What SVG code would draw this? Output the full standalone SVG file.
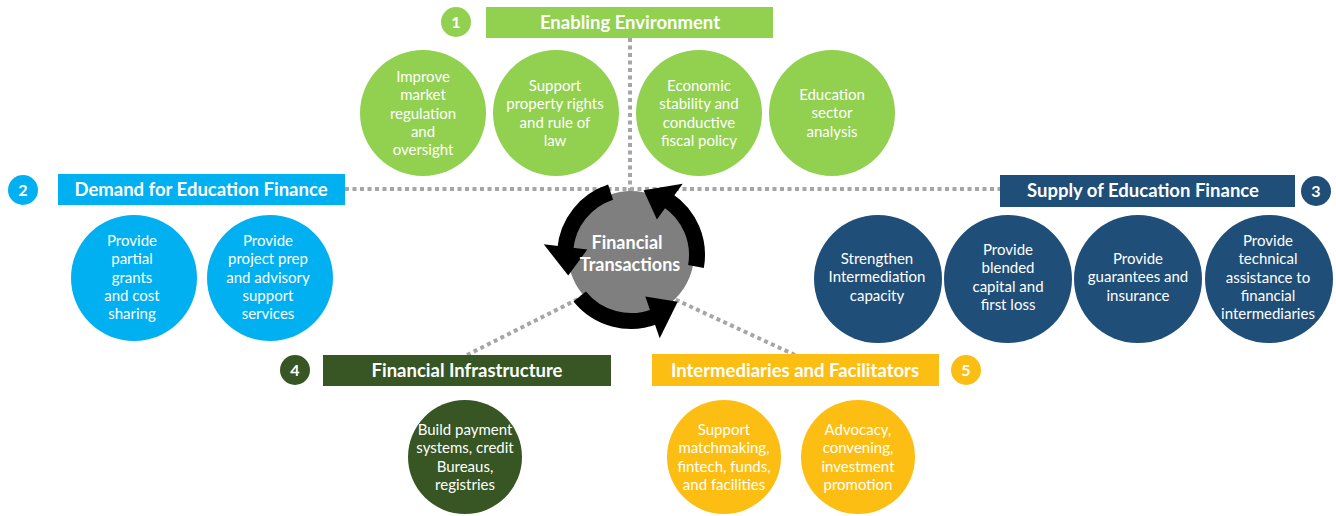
<svg xmlns="http://www.w3.org/2000/svg" width="1336" height="516" viewBox="0 0 1336 516">
<style>
.hdr{font-family:Lato,"Open Sans","Liberation Sans",sans-serif;font-weight:700;font-size:18.5px;fill:#fff;text-anchor:middle}
.ft{font-family:Lato,"Open Sans","Liberation Sans",sans-serif;font-weight:700;font-size:18px;fill:#fff;text-anchor:middle}
.num{font-family:Lato,"Open Sans","Liberation Sans",sans-serif;font-weight:700;font-size:16px;fill:#fff;text-anchor:middle}
.ct{font-family:Lato,"Open Sans","Liberation Sans",sans-serif;font-size:15px;fill:#fff;text-anchor:middle}
.dot{stroke:#A6A6A6;stroke-width:4;stroke-dasharray:4 3.5;fill:none}
.ring{stroke:#000;stroke-width:16;fill:none}
.g{fill:#92D050}.b{fill:#00B0F0}.n{fill:#1F4E79}.d{fill:#375623}.y{fill:#FCBE12}
</style>
<rect width="1336" height="516" fill="#fff"/>
<g id="connectors">
<path class="dot" d="M630,38 V205"/>
<path class="dot" d="M345,189 H1000"/>
<path class="dot" d="M467,355 L590,293"/>
<path class="dot" d="M795,355 L672,298"/>
</g>
<g id="center">
<circle cx="631" cy="254" r="63" fill="#7F7F7F"/>
<path class="ring" d="M610.6,192.2 A66,66 0 0 0 565.3,249.2"/>
<polygon points="587.3,249.6 543.7,244.3 568.2,275.4"/>
<path class="ring" d="M579.7,296.5 A66,66 0 0 0 654.7,316.6"/>
<polygon points="645.3,296.6 659.7,338.2 677.7,301.7"/>
<path class="ring" d="M696.0,266.5 A66,66 0 0 0 667.9,200.3"/>
<polygon points="656.9,219.4 682.7,183.8 643.6,190.2"/>
<text class="ft"><tspan x="627" y="249">Financial</tspan><tspan x="630" y="271">Transactions</tspan></text>
</g>
<g id="enabling">
<circle class="g" cx="456" cy="22" r="15"/><text class="num" x="456" y="28">1</text>
<rect class="g" x="486" y="7" width="287" height="31"/><text class="hdr" x="630" y="29">Enabling Environment</text>
</g>
<g id="e1"><circle class="g" cx="423" cy="113" r="63"/><text class="ct"><tspan x="423" y="82">Improve</tspan><tspan x="423" y="100.3">market</tspan><tspan x="423" y="118.6">regulation</tspan><tspan x="423" y="136.9">and</tspan><tspan x="423" y="155.2">oversight</tspan></text></g>
<g id="e2"><circle class="g" cx="556" cy="113" r="63"/><text class="ct"><tspan x="555" y="91">Support</tspan><tspan x="555" y="109.3">property rights</tspan><tspan x="555" y="127.6">and rule of</tspan><tspan x="555" y="145.9">law</tspan></text></g>
<g id="e3"><circle class="g" cx="699" cy="113" r="63"/><text class="ct"><tspan x="699" y="91">Economic</tspan><tspan x="699" y="109.3">stability and</tspan><tspan x="699" y="127.6">conductive</tspan><tspan x="699" y="145.9">fiscal policy</tspan></text></g>
<g id="e4"><circle class="g" cx="832" cy="113" r="63"/><text class="ct"><tspan x="832" y="100">Education</tspan><tspan x="832" y="118.3">sector</tspan><tspan x="832" y="136.6">analysis</tspan></text></g>
<g id="demand">
<circle class="b" cx="23" cy="190" r="15"/><text class="num" x="23" y="196">2</text>
<rect class="b" x="58" y="174" width="287" height="31"/><text class="hdr" x="201" y="196">Demand for Education Finance</text>
</g>
<g id="d1"><circle class="b" cx="134" cy="278" r="63"/><text class="ct"><tspan x="132" y="246">Provide</tspan><tspan x="132" y="264.3">partial</tspan><tspan x="132" y="282.6">grants</tspan><tspan x="132" y="300.9">and cost</tspan><tspan x="132" y="319.2">sharing</tspan></text></g>
<g id="d2"><circle class="b" cx="270" cy="278" r="63"/><text class="ct"><tspan x="268" y="246">Provide</tspan><tspan x="268" y="264.3">project prep</tspan><tspan x="268" y="282.6">and advisory</tspan><tspan x="268" y="300.9">support</tspan><tspan x="268" y="319.2">services</tspan></text></g>
<g id="supply">
<rect class="n" x="1000" y="175" width="295" height="32"/><text class="hdr" x="1143" y="197">Supply of Education Finance</text>
<circle class="n" cx="1316" cy="191" r="15"/><text class="num" x="1316" y="197">3</text>
</g>
<g id="s1"><circle class="n" cx="878" cy="279" r="64"/><text class="ct"><tspan x="877" y="264">Strengthen</tspan><tspan x="877" y="282.3">Intermediation</tspan><tspan x="877" y="300.6">capacity</tspan></text></g>
<g id="s2"><circle class="n" cx="1008" cy="279" r="64"/><text class="ct"><tspan x="1008" y="255">Provide</tspan><tspan x="1008" y="273.3">blended</tspan><tspan x="1008" y="291.6">capital and</tspan><tspan x="1008" y="309.9">first loss</tspan></text></g>
<g id="s3"><circle class="n" cx="1138" cy="279" r="64"/><text class="ct"><tspan x="1138" y="264">Provide</tspan><tspan x="1138" y="282.3">guarantees and</tspan><tspan x="1138" y="300.6">insurance</tspan></text></g>
<g id="s4"><circle class="n" cx="1269" cy="279" r="64"/><text class="ct"><tspan x="1268" y="246">Provide</tspan><tspan x="1268" y="264.3">technical</tspan><tspan x="1268" y="282.6">assistance to</tspan><tspan x="1268" y="300.9">financial</tspan><tspan x="1268" y="319.2">intermediaries</tspan></text></g>
<g id="infra">
<circle class="d" cx="295" cy="370" r="15"/><text class="num" x="295" y="376">4</text>
<rect class="d" x="323" y="355" width="288" height="31"/><text class="hdr" x="467" y="377">Financial Infrastructure</text>
</g>
<g id="i1"><circle class="d" cx="465" cy="457" r="57"/><text class="ct"><tspan x="465" y="435">Build payment</tspan><tspan x="465" y="453.3">systems, credit</tspan><tspan x="465" y="471.6">Bureaus,</tspan><tspan x="465" y="489.9">registries</tspan></text></g>
<g id="interm">
<rect class="y" x="652" y="354" width="287" height="32"/><text class="hdr" x="795" y="377">Intermediaries and Facilitators</text>
<circle class="y" cx="966" cy="370" r="15"/><text class="num" x="966" y="376">5</text>
</g>
<g id="f1"><circle class="y" cx="724" cy="457" r="57"/><text class="ct"><tspan x="724" y="435">Support</tspan><tspan x="724" y="453.3">matchmaking,</tspan><tspan x="724" y="471.6">fintech, funds,</tspan><tspan x="724" y="489.9">and facilities</tspan></text></g>
<g id="f2"><circle class="y" cx="858" cy="457" r="57"/><text class="ct"><tspan x="858" y="435">Advocacy,</tspan><tspan x="858" y="453.3">convening,</tspan><tspan x="858" y="471.6">investment</tspan><tspan x="858" y="489.9">promotion</tspan></text></g>
</svg>
